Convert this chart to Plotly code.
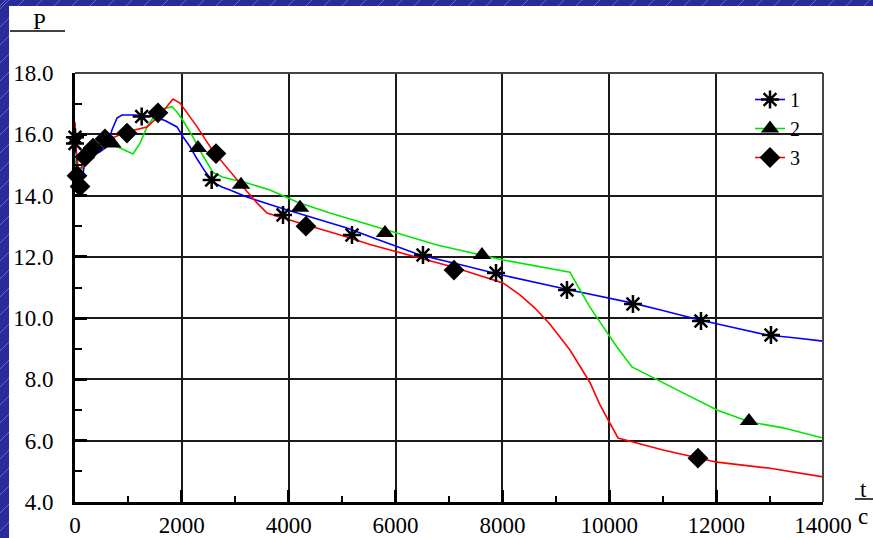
import plotly.graph_objects as go

# ---- data ----
t1 = [0, 40, 94, 150, 190, 300, 468, 600, 692, 786, 880, 1100, 1404, 1684, 1909, 2021, 2150, 2283,
      2430, 2583, 2750, 2901, 3219, 3837, 4454, 5090, 5577, 6457, 7200, 8010, 9264, 10200, 10443,
      11000, 11697, 12300, 12951, 13500, 14000]
p1 = [15.9, 15.0, 14.35, 14.7, 15.2, 15.3, 15.43, 15.6, 16.14, 16.53, 16.63, 16.63, 16.6, 16.45,
      16.24, 15.92, 15.6, 15.2, 14.8, 14.44, 14.28, 14.18, 13.95, 13.6, 13.27, 12.94, 12.62, 12.06,
      11.75, 11.4, 10.92, 10.59, 10.49, 10.25, 9.94, 9.7, 9.45, 9.35, 9.25]

t2 = [0, 40, 94, 150, 225, 350, 500, 692, 842, 1029, 1085, 1216, 1347, 1460, 1591, 1815, 1909,
      2021, 2208, 2395, 2583, 2770, 3219, 3650, 4155, 4772, 5652, 6775, 8010, 9264, 9451, 9638,
      9826, 10144, 10425, 10893, 11379, 12016, 12633, 13251, 14000]
p2 = [15.2, 14.7, 14.6, 15.0, 15.26, 15.45, 15.55, 15.65, 15.55, 15.39, 15.36, 15.7, 16.24, 16.53,
      16.8, 16.9, 16.73, 16.45, 15.91, 15.3, 14.75, 14.6, 14.41, 14.18, 13.79, 13.43, 12.98, 12.39,
      11.9, 11.5, 10.92, 10.36, 9.87, 9.06, 8.41, 7.98, 7.56, 7.0, 6.61, 6.42, 6.09]

t3 = [0, 15, 60, 120, 225, 524, 973, 1347, 1591, 1778, 1834, 1965, 2283, 2583, 2901, 3219, 3406,
      3594, 3893, 4454, 5090, 5521, 7074, 8010, 8328, 8608, 8890, 9264, 9638, 9826, 10013, 10163,
      10443, 11005, 12016, 13008, 14000]
p3 = [16.4, 15.6, 14.9, 14.9, 15.33, 15.75, 16.08, 16.24, 16.63, 17.05, 17.15, 17.02, 16.25, 15.45,
      14.78, 14.13, 13.76, 13.43, 13.27, 12.98, 12.65, 12.4, 11.67, 11.15, 10.76, 10.33, 9.8, 8.96,
      7.9, 7.17, 6.58, 6.09, 5.96, 5.7, 5.3, 5.1, 4.82]

# marker points
m1_t = [0, 0, 1248, 2558, 3893, 5184, 6513, 7880, 9208, 10443, 11716, 13026]
m1_p = [15.9, 15.7, 16.58, 14.51, 13.37, 12.71, 12.06, 11.47, 10.92, 10.46, 9.91, 9.45]
m2_t = [700, 2302, 3107, 4211, 5802, 7617, 12614]
m2_p = [15.7, 15.55, 14.35, 13.6, 12.78, 12.06, 6.64]
m3_t = [37, 94, 187, 337, 561, 973, 1553, 2639, 4323, 7093, 11660]
m3_p = [14.65, 14.3, 15.26, 15.55, 15.85, 16.04, 16.7, 15.37, 13.0, 11.57, 5.43]

series_names = ["1", "2", "3"]
x_ticks = [0, 2000, 4000, 6000, 8000, 10000, 12000, 14000]
y_ticks = [4, 6, 8, 10, 12, 14, 16, 18]

colors = ["#0000ff", "#00e600", "#ff0000"]
symbols = ["asterisk-open", "triangle-up", "diamond"]
msizes = [15, 16, 16]

FONT = "Liberation Serif"

fig = go.Figure()
lines = [(t1, p1), (t2, p2), (t3, p3)]
marks = [(m1_t, m1_p), (m2_t, m2_p), (m3_t, m3_p)]

for i in range(3):
    fig.add_trace(go.Scatter(x=lines[i][0], y=lines[i][1], mode="lines",
                             line=dict(color=colors[i], width=1.6),
                             showlegend=False, hoverinfo="skip"))
for i in range(3):
    mk = dict(symbol=symbols[i], size=msizes[i], color="black",
              line=dict(color="black", width=2.5 if i == 0 else 0))
    fig.add_trace(go.Scatter(x=marks[i][0], y=marks[i][1], mode="markers",
                             marker=mk, showlegend=False, cliponaxis=False))
for i in range(3):
    mk = dict(symbol=symbols[i], size=msizes[i], color="black",
              line=dict(color="black", width=2.5 if i == 0 else 0))
    fig.add_trace(go.Scatter(x=[None], y=[None], mode="lines+markers", name=series_names[i],
                             line=dict(color=colors[i], width=1.6), marker=mk))

L, R, T, B = 75, 50, 73, 36
W, H = 873, 538
pw, ph = W - L - R, H - T - B


def px(x):
    return (x - L) / pw


def py(y):
    return (H - B - y) / ph


axis_common = dict(
    showgrid=True, gridcolor="#1a1a1a", gridwidth=1.5,
    showline=True, linecolor="black", linewidth=3,
    ticks="inside", ticklen=12, tickwidth=3, tickcolor="black",
    tickfont=dict(family=FONT, size=23, color="black"),
    zeroline=False,
)

fig.update_xaxes(range=[0, 14000], tickmode="array", tickvals=x_ticks,
                 ticktext=[str(v) for v in x_ticks],
                 minor=dict(ticks="inside", ticklen=6, tickwidth=2, tickcolor="black",
                            tickvals=[1000, 3000, 5000, 7000, 9000, 11000, 13000], showgrid=False),
                 ticklabelstandoff=0, **axis_common)
fig.update_yaxes(range=[4, 18], tickmode="array", tickvals=y_ticks,
                 ticktext=["%.1f" % v for v in y_ticks],
                 minor=dict(ticks="inside", ticklen=7, tickwidth=2, tickcolor="black",
                            tickvals=[5, 7, 9, 11, 13, 15, 17], showgrid=False),
                 ticklabelstandoff=14, **axis_common)

shapes = [
    dict(type="rect", xref="paper", yref="paper", x0=px(9), x1=px(873), y0=py(538), y1=py(6),
         fillcolor="white", line=dict(width=0), layer="below"),
    dict(type="line", xref="paper", yref="paper", x0=0, x1=1, y0=1, y1=1,
         line=dict(color="#444", width=2)),
    dict(type="line", xref="paper", yref="paper", x0=1, x1=1, y0=0, y1=1,
         line=dict(color="#444", width=2)),
    dict(type="line", xref="paper", yref="paper", x0=px(10), x1=px(65), y0=py(31), y1=py(31),
         line=dict(color="black", width=1.5)),
    dict(type="line", xref="paper", yref="paper", x0=px(855), x1=px(873), y0=py(499), y1=py(499),
         line=dict(color="black", width=1.5)),
]

# faint diagonal hatch in the blue frame
hatch = dict(color="rgba(150,150,230,0.55)", width=1)
for k in range(0, 900, 18):
    shapes.append(dict(type="line", xref="paper", yref="paper",
                       x0=px(k), x1=px(k + 6), y0=py(6), y1=py(0), line=hatch, layer="below"))
for k in range(0, 560, 18):
    shapes.append(dict(type="line", xref="paper", yref="paper",
                       x0=px(0), x1=px(9), y0=py(k + 9), y1=py(k), line=hatch, layer="below"))

annotations = [
    dict(text="P", xref="paper", yref="paper", x=px(39), y=py(22), showarrow=False,
         font=dict(family=FONT, size=23, color="black"), xanchor="center", yanchor="middle"),
    dict(text="t", xref="paper", yref="paper", x=px(863), y=py(489), showarrow=False,
         font=dict(family=FONT, size=23, color="black"), xanchor="center", yanchor="middle"),
    dict(text="c", xref="paper", yref="paper", x=px(863), y=py(516), showarrow=False,
         font=dict(family=FONT, size=23, color="black"), xanchor="center", yanchor="middle"),
]

fig.update_layout(
    width=W, height=H,
    margin=dict(l=L, r=R, t=T, b=B, autoexpand=False),
    paper_bgcolor="#2a2a9a", plot_bgcolor="white",
    shapes=shapes, annotations=annotations,
    legend=dict(x=px(750), y=py(80), xanchor="left", yanchor="top",
                bgcolor="rgba(0,0,0,0)", font=dict(family=FONT, size=20, color="black"),
                tracegroupgap=0, itemwidth=30),
    showlegend=True,
)

fig.write_html("out.html")
